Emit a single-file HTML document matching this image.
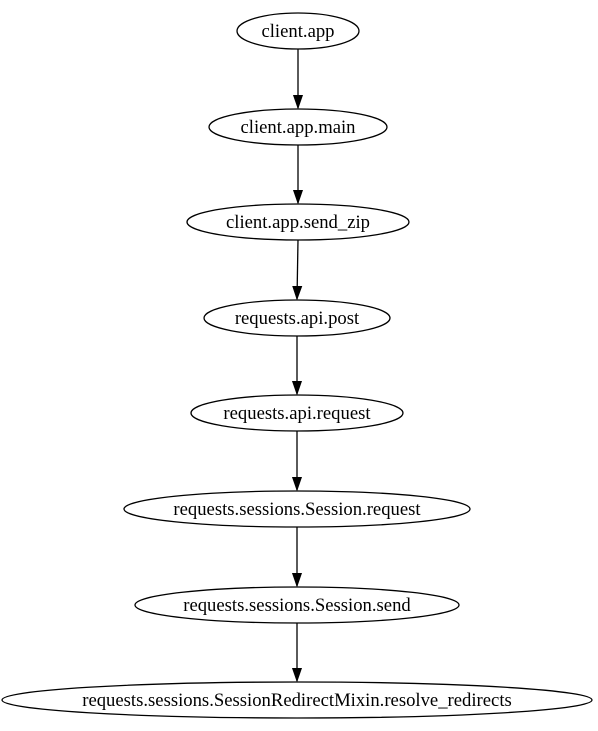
<!DOCTYPE html>
<html><head><meta charset="utf-8"><style>html,body{margin:0;padding:0;background:#fff}svg{display:block}</style></head>
<body>
<svg width="598" height="731" viewBox="0 0 598 731" xmlns="http://www.w3.org/2000/svg" font-family="Liberation Serif, serif" font-size="18.67">
<defs><marker id="a" markerWidth="14" markerHeight="14" refX="13" refY="6" orient="auto" markerUnits="userSpaceOnUse"><path d="M0,1.5 L13,6 L0,10.5 Z" fill="#000" stroke="#000"/></marker></defs>
<g fill="none" stroke="#000" stroke-width="1.3">
<ellipse cx="298" cy="31" rx="61" ry="18"/>
<ellipse cx="298" cy="127" rx="89" ry="18"/>
<ellipse cx="298" cy="222" rx="111" ry="18"/>
<ellipse cx="297" cy="318" rx="93" ry="18"/>
<ellipse cx="297" cy="413" rx="106" ry="18"/>
<ellipse cx="297" cy="509" rx="173" ry="18"/>
<ellipse cx="297" cy="605" rx="162" ry="18"/>
<ellipse cx="297" cy="700" rx="295" ry="18"/>
<line x1="298" y1="49" x2="298" y2="108" marker-end="url(#a)"/>
<line x1="298" y1="145" x2="298" y2="203" marker-end="url(#a)"/>
<line x1="298" y1="240" x2="297" y2="299" marker-end="url(#a)"/>
<line x1="297" y1="336" x2="297" y2="394" marker-end="url(#a)"/>
<line x1="297" y1="431" x2="297" y2="490" marker-end="url(#a)"/>
<line x1="297" y1="527" x2="297" y2="586" marker-end="url(#a)"/>
<line x1="297" y1="623" x2="297" y2="681" marker-end="url(#a)"/>
</g>
<g text-anchor="middle" fill="#000">
<text x="298" y="37">client.app</text>
<text x="298" y="133">client.app.main</text>
<text x="298" y="228">client.app.send_zip</text>
<text x="297" y="324">requests.api.post</text>
<text x="297" y="419">requests.api.request</text>
<text x="297" y="515">requests.sessions.Session.request</text>
<text x="297" y="611">requests.sessions.Session.send</text>
<text x="297" y="706">requests.sessions.SessionRedirectMixin.resolve_redirects</text>
</g>
</svg>
</body></html>
